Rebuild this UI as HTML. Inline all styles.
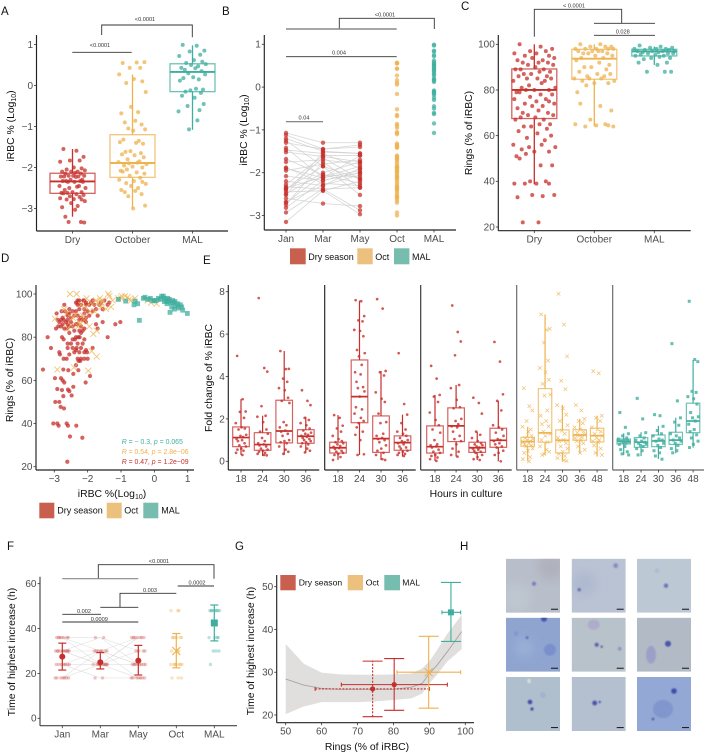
<!DOCTYPE html>
<html lang="en">
<head>
<meta charset="utf-8">
<title>Multi-panel parasite chart figure</title>
<style>
html,body{margin:0;padding:0;background:#fff;}
svg{display:block;font-family:"Liberation Sans",sans-serif;}
svg#fig{filter:blur(0.3px);}
text{font-family:"Liberation Sans",sans-serif;}
</style>
</head>
<body>
<svg id="fig" xmlns="http://www.w3.org/2000/svg" width="705" height="754" viewBox="0 0 705 754">
<defs>
  <filter id="soft" x="-100%" y="-100%" width="300%" height="300%"><feGaussianBlur stdDeviation="0.8"/></filter>
  <filter id="softer" x="-100%" y="-100%" width="300%" height="300%"><feGaussianBlur stdDeviation="5"/></filter>
</defs>

<g font-size="11.5" fill="#111">
  <text x="1" y="15">A</text>
  <text x="222" y="15">B</text>
  <text x="461" y="10">C</text>
  <text x="1" y="262">D</text>
  <text x="203" y="264">E</text>
  <text x="7" y="550">F</text>
  <text x="235" y="550">G</text>
  <text x="460" y="550">H</text>
</g>

<g id="panelA"></g>
<g id="panelB"></g>
<g id="panelC"></g>
<g id="panelD"></g>
<g id="panelE"></g>
<g id="panelF"></g>
<g id="panelG"></g>

<g fill="#111" font-size="10.4" text-anchor="middle">
  <text transform="translate(14,126) rotate(-90)">iRBC % (Log<tspan font-size="7" dy="2">10</tspan><tspan dy="-2">)</tspan></text>
  <text transform="translate(247,130) rotate(-90)">iRBC % (Log<tspan font-size="7" dy="2">10</tspan><tspan dy="-2">)</tspan></text>
  <text transform="translate(472,133) rotate(-90)">Rings (% of iRBC)</text>
  <text transform="translate(13,380) rotate(-90)">Rings (% of iRBC)</text>
  <text x="112" y="497">iRBC %(Log<tspan font-size="7" dy="2">10</tspan><tspan dy="-2">)</tspan></text>
  <text transform="translate(212,378) rotate(-90)">Fold change of % iRBC</text>
  <text x="466" y="497">Hours in culture</text>
  <text transform="translate(15,652) rotate(-90)">Time of highest increase  (h)</text>
  <text transform="translate(254,651) rotate(-90)">Time of highest increase  (h)</text>
  <text x="367" y="750">Rings (% of iRBC)</text>
</g>

<g fill="none" stroke="#333" stroke-width="0.9">
  <path d="M72.3 52.3H131.7"/>
  <path d="M101.7 35V25H192.3V37.3"/>
  <path d="M339.3 29V18.3H434.3V29"/>
  <path d="M286 29H396.7" stroke="#888" stroke-width="1.4"/>
  <path d="M286 56.7H396.7"/>
  <path d="M286 121.7H323" stroke="#777" stroke-width="1.2"/>
  <path d="M534.3 36.7V9.3H621.7V23.3"/>
  <path d="M594 23.3H655"/>
  <path d="M594 35.3H655"/>
  <path d="M98.3 578.7V564.7H214V578.7"/>
  <path d="M62.3 578.7H138.3" stroke="#888" stroke-width="1.2"/>
  <path d="M177.7 586H214"/>
  <path d="M120 607.3V593.3H176.3"/>
  <path d="M100.3 607.3H138.3"/>
  <path d="M62.3 614.3H101"/>
  <path d="M62.3 622H138.3"/>
</g>
<g fill="#333" font-size="5.6" text-anchor="middle">
  <text x="100" y="47">&lt;0.0001</text>
  <text x="145" y="21">&lt;0.0001</text>
  <text x="385" y="16.5">&lt;0.0001</text>
  <text x="339" y="54.5">0.004</text>
  <text x="304" y="119.5">0.04</text>
  <text x="574" y="7.5">&lt; 0.0001</text>
  <text x="622.7" y="33.5">0.028</text>
  <text x="159" y="563">&lt;0.0001</text>
  <text x="197" y="584.7">0.0002</text>
  <text x="150" y="592">0.003</text>
  <text x="84" y="613">0.002</text>
  <text x="99.3" y="620.8">0.0009</text>
</g>

<g font-size="9" fill="#111">
  <rect x="290" y="248.3" width="15.7" height="16" fill="#c9604f"/>
  <text x="308.3" y="260">Dry season</text>
  <rect x="357.3" y="248.3" width="15.4" height="16" fill="#ecc17d"/>
  <text x="375.3" y="260">Oct</text>
  <rect x="394" y="248.3" width="15.4" height="16" fill="#76bcaf"/>
  <text x="412" y="260">MAL</text>
</g>
<g font-size="9" fill="#111">
  <rect x="39.3" y="502.7" width="15" height="15.6" fill="#c9604f"/>
  <text x="57.3" y="513.5">Dry season</text>
  <rect x="106.7" y="502.7" width="15" height="15.6" fill="#ecc17d"/>
  <text x="124.3" y="513.5">Oct</text>
  <rect x="143.3" y="502.7" width="15" height="15.6" fill="#76bcaf"/>
  <text x="161.3" y="513.5">MAL</text>
</g>
<g font-size="8.6" fill="#111">
  <rect x="280.3" y="575" width="15.4" height="15.3" fill="#c9604f"/>
  <text x="298.7" y="585.5">Dry season</text>
  <rect x="347.7" y="575" width="15.3" height="15.3" fill="#ecc17d"/>
  <text x="365.7" y="585.5">Oct</text>
  <rect x="384.3" y="575" width="15.7" height="15.3" fill="#76bcaf"/>
  <text x="402.3" y="585.5">MAL</text>
</g>

<g font-size="6.9">
  <text x="121.7" y="444" fill="#3fae9e"><tspan font-style="italic">R</tspan> = − 0.3, <tspan font-style="italic">p</tspan> = 0.065</text>
  <text x="121.7" y="454" fill="#eeb24f"><tspan font-style="italic">R</tspan> = 0.54, <tspan font-style="italic">p</tspan> = 2.8e−06</text>
  <text x="121.7" y="464" fill="#c62f2b"><tspan font-style="italic">R</tspan> = 0.47, <tspan font-style="italic">p</tspan> = 1.2e−09</text>
</g>

<g>
  <svg x="506" y="558.7" width="54" height="54" viewBox="0 0 54 54"><rect width="54" height="54" fill="#b8bfcb"/><circle cx="45" cy="8" r="14" fill="#b0b2bc" filter="url(#softer)"/><circle cx="10" cy="40" r="14" fill="#bec7d0" filter="url(#softer)"/><circle cx="28" cy="25" r="2" fill="#6a6cb8" fill-opacity="0.8" filter="url(#soft)"/><rect x="45" y="50" width="7" height="1.1" fill="#222"/></svg>
  <svg x="571.7" y="558.7" width="54" height="54" viewBox="0 0 54 54"><rect width="54" height="54" fill="#b9c3d3"/><circle cx="12" cy="25" r="12" fill="#aeb9cf" filter="url(#softer)"/><circle cx="7.5" cy="31" r="1.7" fill="#5a63b2" fill-opacity="0.85" filter="url(#soft)"/><circle cx="44" cy="7" r="2.4" fill="#7b84c0" fill-opacity="0.85" filter="url(#soft)"/><rect x="45" y="50" width="7" height="1.1" fill="#222"/></svg>
  <svg x="637" y="558.7" width="54" height="54" viewBox="0 0 54 54"><rect width="54" height="54" fill="#bcc8d4"/><circle cx="29" cy="27" r="2.2" fill="#6464b5" fill-opacity="0.85" filter="url(#soft)"/><circle cx="20" cy="12" r="2.4" fill="#b0b9d3" filter="url(#soft)"/><rect x="45" y="50" width="7" height="1.1" fill="#222"/></svg>
  <svg x="506" y="617.7" width="54" height="54" viewBox="0 0 54 54"><rect width="54" height="54" fill="#8fa5d0"/><circle cx="44" cy="32" r="6" fill="#7a90cb" filter="url(#soft)"/><circle cx="38" cy="1" r="3" fill="#4654ad" filter="url(#soft)"/><circle cx="21" cy="20" r="1.4" fill="#4452aa" filter="url(#soft)"/><circle cx="10" cy="16" r="2.4" fill="#8296ce" filter="url(#soft)"/><circle cx="18" cy="30" r="9" fill="#9cb0d6" filter="url(#softer)"/><rect x="45" y="50" width="7" height="1.1" fill="#222"/></svg>
  <svg x="571.7" y="617.7" width="54" height="54" viewBox="0 0 54 54"><rect width="54" height="54" fill="#b8c2cb"/><ellipse cx="22" cy="7" rx="6" ry="5" fill="#aeacc8" filter="url(#soft)"/><circle cx="25" cy="27" r="2" fill="#5c5fae" filter="url(#soft)"/><circle cx="30" cy="29" r="1.1" fill="#4249a5" filter="url(#soft)"/><circle cx="48" cy="31" r="1.8" fill="#8b92c6" filter="url(#soft)"/><rect x="45" y="50" width="7" height="1.1" fill="#222"/></svg>
  <svg x="637" y="617.7" width="54" height="54" viewBox="0 0 54 54"><rect width="54" height="54" fill="#b2bbc5"/><ellipse cx="14" cy="37" rx="5" ry="9" fill="#9da0c6" filter="url(#soft)"/><circle cx="31" cy="26" r="3" fill="#4a54aa" filter="url(#soft)"/><rect x="45" y="50" width="7" height="1.1" fill="#222"/></svg>
  <svg x="506" y="677" width="54" height="54" viewBox="0 0 54 54"><rect width="54" height="54" fill="#b0bfce"/><circle cx="24" cy="25" r="2.3" fill="#3f4ba4" filter="url(#soft)"/><circle cx="26" cy="32" r="1.6" fill="#3f4ba4" filter="url(#soft)"/><circle cx="37" cy="18" r="3" fill="#a3b3cc" filter="url(#soft)"/><ellipse cx="23" cy="4" rx="1.6" ry="2.4" fill="#d9ded8" filter="url(#soft)"/><rect x="45" y="50" width="7" height="1.1" fill="#222"/></svg>
  <svg x="571.7" y="677" width="54" height="54" viewBox="0 0 54 54"><rect width="54" height="54" fill="#b4bfd0"/><circle cx="23" cy="26" r="2.4" fill="#4a52a8" filter="url(#soft)"/><circle cx="28" cy="25" r="1.1" fill="#3d45a2" filter="url(#soft)"/><rect x="45" y="50" width="7" height="1.1" fill="#222"/></svg>
  <svg x="637" y="677" width="54" height="54" viewBox="0 0 54 54"><rect width="54" height="54" fill="#93a8d4"/><ellipse cx="26" cy="32" rx="10" ry="9" fill="#8096cc" filter="url(#soft)"/><circle cx="37" cy="14" r="2.8" fill="#414ea8" filter="url(#soft)"/><circle cx="16" cy="42" r="1.3" fill="#4a56ac" filter="url(#soft)"/><rect x="45" y="50" width="7" height="1.1" fill="#222"/></svg>
</g>

<script>
// ---- shared jitter pattern (unitless, multiplied by each chart's spread)
var jitterPattern = [-0.7,0.3,0.85,-0.2,0.55,-0.95,0.1,0.7,-0.45,0.95,-0.1,0.4,-0.8,0.2,-0.55,0.65,-0.3,0.9,0.05,-0.65,0.45,-0.9,0.25,0.75,-0.15,-0.5,0.6,-0.75,0.15,0.8,-0.35,0.5,-1,0.35,-0.25,1,-0.6,0,0.7,-0.4,-0.85];

// ---- panel A
var groupLabels = ['Dry','October','MAL'];
var logTicks = [-3,-2,-1,0,1];
var dryLog = [-1.55,-1.59,-1.74,-1.83,-1.83,-1.86,-2,-2.02,-2.05,-2.07,-2.1,-2.1,-2.1,-2.13,-2.15,-2.15,-2.2,-2.2,-2.2,-2.22,-2.22,-2.22,-2.23,-2.3,-2.3,-2.33,-2.33,-2.33,-2.35,-2.35,-2.35,-2.45,-2.45,-2.47,-2.5,-2.5,-2.55,-2.6,-2.6,-2.62,-2.62,-2.63,-2.65,-2.67,-2.7,-2.72,-2.75,-2.77,-2.78,-2.78,-2.82,-2.87,-2.94,-2.97,-3.03,-3.2,-3.33,-3.33,-3.34];
var octLog = [0.55,0.56,0.57,0.43,0.43,0.27,0.16,0.1,0.06,-0.16,-0.52,-0.65,-0.68,-0.86,-0.9,-0.95,-1.05,-1.07,-1.1,-1.32,-1.35,-1.38,-1.4,-1.42,-1.6,-1.62,-1.65,-1.68,-1.7,-1.75,-1.8,-1.85,-1.87,-1.88,-1.9,-1.92,-1.95,-1.98,-2,-2.05,-2.08,-2.1,-2.12,-2.15,-2.2,-2.25,-2.3,-2.33,-2.35,-2.38,-2.4,-2.45,-2.5,-2.55,-2.57,-2.6,-2.65,-2.7,-2.93,-3];
var malLog = [0.99,0.97,0.85,0.83,0.75,0.72,0.62,0.58,0.55,0.52,0.5,0.47,0.43,0.42,0.38,0.35,0.3,0.27,0.2,0.18,0.15,0.12,-0.08,-0.1,-0.12,-0.15,-0.18,-0.25,-0.3,-0.45,-0.5,-0.6,-0.63,-0.85,-1.07];
var dryLogBox = [-3.2,-2.63,-2.34,-2.14,-1.55];
var octLogBox = [-2.99,-2.24,-1.89,-1.2,0.27];
var malLogBox = [-1.08,-0.15,0.33,0.53,0.98];

// ---- panel B
var monthLabels = ['Jan','Mar','May','Oct','MAL'];
var janLog = [-1.07,-1.12,-1.2,-1.25,-1.42,-1.47,-1.52,-1.68,-1.75,-1.88,-1.95,-2.08,-2.2,-2.28,-2.33,-2.36,-2.38,-2.45,-2.5,-2.52,-2.6,-2.68,-2.7,-2.75,-2.82,-2.93,-3.15,-1.3,-1.9,-2.4];
var marLog = [-1.3,-1.45,-1.5,-1.85,-2.12,-1.55,-1.62,-2.05,-1.7,-2.25,-1.8,-2.18,-2.3,-1.6,-2.38,-2.1,-1.85,-2.42,-2,-1.52,-2.72,-2.3,-2.05,-1.75,-2.18,-2.38,-2.42,-1.45,-2.12,-1.65];
var mayLog = [-1.3,-1.35,-1.55,-2.15,-1.6,-1.9,-1.75,-2.25,-1.8,-2.3,-1.7,-2,-2.05,-1.6,-2.35,-1.85,-2.52,-2.2,-1.75,-1.55,-2.78,-1.9,-2.1,-2.35,-2,-2.88,-2.97,-1.4,-1.95,-2.15];

// ---- panel C
var ringsTicks = [20,40,60,80,100];
var dryRings = [100,99,98,97,97,96,96,95,95,94,94,93,93,92,92,92,91,91,90,89,89,89,88,88,87,87,86,86,85,85,85,84,84,83,82,81,81,80,80,80,79,79,78,78,77,76,76,75,75,74,74,73,73,72,71,70,70,69,69,68,68,67,67,65,65,64,64,63,62,61,60,59,58,56,56,55,55,54,53,53,52,51,50,47,47,40,40,39,39,39,39,34,34,33.5,33,22,22];
var octRings = [100,100,99,99,99,98,98,98,98,98,97,97,97,97,96,96,96,95,95,94,94,93,92,91,90,90,89,88,87,87,86,86,85,85,85,84,84,83,83,82,79,74,73,71,67,65,65,64.5,64.5,64,64];
var malRings = [99.5,99,98.5,98.5,98,98,98,97.5,97.5,97,97,97,97,96.5,96.5,96,96,96,95.5,95.5,95,95,94.5,94,94,93.5,92,92,91,88,88,88];
var dryRingsBox = [38.7,67.5,80,89.2,100];
var octRingsBox = [64,84.7,93.7,97.8,100];
var malRingsBox = [91,94.9,96.9,97.8,99];

// ---- panel D
var dXTicks = [-3,-2,-1,0,1];
var dryScatter = [[-3.34,65],[-3.2,80],[-3.1,75],[-3.03,40],[-2.91,40],[-2.87,39],[-2.63,40],[-2.59,39],[-2.34,39],[-2.53,34],[-2.16,33.4],[-2.61,22.3],[-2.97,50],[-2.85,50],[-2.81,47.7],[-2.71,47],[-2.73,52.7],[-2.91,56],[-2.77,55.5],[-2.59,55.7],[-2.55,55],[-2.48,53],[-2.43,57],[-2.98,61],[-2.8,61],[-2.75,60],[-2.7,59],[-2.73,65],[-2.58,64.7],[-2.35,67],[-2.28,64.7],[-2.43,63],[-1.93,62],[-2.06,59],
[-2.3,97],[-2.25,97],[-2.13,97],[-2.1,97],[-1.85,97],[-1.5,97],[-2.35,96],[-2.3,96],[-2.05,96],[-1.9,96],[-1.6,96],[-1.35,96],[-2.7,95],[-2.3,95],[-2.2,95],[-2.05,95],[-1.95,95],[-1.8,95],[-1.65,95],[-1.4,95],[-2.55,93],[-2.25,93],[-2.1,93],[-1.75,93],[-1.55,93],[-2.78,92],[-2.68,92],[-2.45,92],[-2.35,92],[-2,92],[-1.85,92],[-2.93,91],[-2.6,91],[-2.55,91],[-2.1,91],[-2.6,90],[-2.4,90],[-2.3,90],[-1.95,90],[-1.7,90],[-2.75,89],[-2.5,89],[-2.2,89],[-2.05,89],[-2.9,88],[-2.8,88],[-2.72,88],[-2.6,88],[-2.25,88],[-2.15,88],[-2.1,88],[-2.85,87],[-2.65,87],[-2.5,87],[-2.05,87],[-1.55,87],[-1.02,87],[-2.75,86],[-2.6,86],[-2.35,86],[-2.3,86],[-1.75,86],[-1.17,86],[-2.88,85],[-2.8,85],[-2.55,85],[-2.45,85],[-2.2,85],[-2.95,84],[-2.7,84],[-2.62,84],[-2.1,84],[-1.7,84],[-2.4,83],[-2.25,83],[-2.15,83],[-2.55,82],[-2.2,82],[-2.77,80],[-2.35,80],[-2.28,80],[-2.24,80],[-1.4,80],[-2.72,79],[-2.45,79],[-2.38,79],[-2.1,79],[-2.6,77],[-2.5,77],[-2.3,77],[-2.15,77],[-2.6,75],[-2.45,75],[-2.33,75],[-2.2,75],[-1.85,75],[-2.35,74],[-2.05,74],[-2.85,73],[-2.4,73],[-2.25,73],[-2.1,73],[-2.02,73],[-2.83,72],[-2.55,72],[-2.72,70],[-2.63,70],[-2.3,70],[-2.2,70],[-2.1,70],[-2,70],[-2.27,69],[-2.22,69]];
var octScatter = [[-2.53,100],[-2.33,100],[-2.98,88.5],[-2.91,65],[-1.98,64.5],[-1.88,73.5],[-1.73,71],[-2.41,66],[-2.03,98],[-1.9,96],[-1.63,98],[-1.58,96],[-1.38,100],[-1.35,99],[-1.08,98],[-0.98,99],[-0.88,99],[-0.58,98],[-0.75,97.5],[0.07,95.5],[-2.23,86],[-2.28,85],[-1.73,83],[-1.83,81.5],[-2.15,90],[-1.93,92],[-2.62,91],[-2.37,90.5],[-2.5,85.5],[-2.45,89],[-1.8,92],[-1.6,94],[-1.45,93],[-1.3,94],[-2.05,94],[-2.2,95],[-1.75,97],[-1.7,96],[-1.55,97],[-1.25,97],[-1,98],[-0.8,98.5],[-0.7,97],[-0.2,97],[-0.1,96],[-2.1,88],[-1.95,85],[-2.25,87],[-2.6,84],[-2.7,93]];
var malScatter = [[-1.08,97.5],[-0.86,96.7],[-0.58,96.7],[-0.61,95],[-0.5,95.5],[-0.45,87.8],[-0.33,98],[-0.28,98.5],[-0.2,97.5],[-0.12,98],[-0.05,97],[0,96.8],[0.05,97],[0.12,98],[0.18,97.5],[0.22,99],[0.27,99],[0.3,98],[0.35,97],[0.4,98],[0.42,96.5],[0.45,97.5],[0.5,96],[0.47,91.5],[0.52,94],[0.55,97],[0.58,96],[0.62,96.5],[0.65,94.5],[0.7,95.5],[0.72,93.5],[0.78,95],[0.82,94],[0.85,92.5],[0.99,91],[0.3,96.5],[0.38,95.5],[0.6,93]];

// ---- panel E
var foldTicks = [0,2,4,6,8];
var hoursShort = [18,24,30,36];
var hoursLong = [18,24,30,36,48];
var fold1Values = [
 [4.97,2.93,2.35,2.33,2.05,1.8,1.6,1.55,1.5,1.25,1.2,1.15,1.05,1,0.95,0.85,0.75,0.7,0.6,0.55,0.5,0.4,0.3],
 [7.7,4.4,4.23,2.6,2.15,2.1,1.85,1.5,1.4,1.3,1.1,0.95,0.85,0.8,0.75,0.7,0.6,0.55,0.5,0.45,0.4,0.35,0.3,0.28],
 [5.2,4.35,4.36,3.9,3.75,3.45,3.35,3,2.85,2.75,1.85,1.7,1.6,1.45,1.4,1.3,1.2,1,0.95,0.9,0.85,0.7,0.55,0.45,0.35],
 [3.35,2.85,2.65,2.05,1.95,1.8,1.7,1.55,1.45,1.35,1.3,1.25,1.2,1.15,1.1,1.05,1,0.95,0.9,0.85,0.8,0.7,0.6,0.5,0.42]];
var fold1Box = [[0.3,0.69,1.12,1.62,2.93],[0.25,0.52,0.79,1.35,2.15],[0.3,0.87,1.43,2.88,5.2],[0.41,0.85,1.18,1.49,2.1]];
var fold2Values = [
 [2.18,2.05,1.68,1.55,1.4,1.2,1.05,0.95,0.9,0.85,0.8,0.72,0.68,0.62,0.58,0.5,0.45,0.4,0.35,0.3,0.2,0.06],
 [7.6,7.55,6.85,6.65,6.6,6.2,6.15,5.9,5.25,5.1,4.95,4.55,4.2,4.1,3.75,3.5,3.45,3.3,3.05,2.55,2.45,2.25,2.05,1.9,1.8,1.6,1.4,1.25,1,0.33,0.3],
 [7.65,7.2,4.26,4.2,4.05,3.25,2.95,2.8,2.25,1.85,1.8,1.3,1.2,1.1,1.05,1,0.9,0.75,0.6,0.5,0.4,0.3,0.1,0.06],
 [5.1,2.7,2.2,1.8,1.5,1.4,1.3,1.2,1.1,1,0.95,0.9,0.85,0.8,0.7,0.65,0.6,0.5,0.45,0.4,0.35,0.3,0.25]];
var fold2Box = [[0.06,0.39,0.64,0.9,2.18],[0.3,1.82,3.05,4.78,7.58],[0.06,0.42,1.07,2.14,4.26],[0.22,0.52,0.88,1.2,2.2]];
var fold3Values = [
 [4.5,3.9,3.13,3.05,2.8,2.3,1.95,1.7,1.5,1.35,1,0.8,0.75,0.7,0.65,0.55,0.45,0.4,0.3,0.25,0.18,0.1,0.02],
 [7.35,6.1,5.65,5,3.6,3.45,2.9,2.55,2.5,2,1.9,1.75,1.65,1.6,1.4,1.2,1.05,0.95,0.8,0.6,0.45,0.3,0.22],
 [3,2.75,2.25,1.4,1.25,1.1,0.95,0.85,0.8,0.75,0.7,0.65,0.6,0.55,0.5,0.45,0.4,0.3,0.2,0.1,0.06],
 [5.63,4.7,3.16,2.85,2.4,1.7,1.6,1.5,1.35,1.2,1.05,1,0.95,0.85,0.8,0.7,0.65,0.5,0.4,0.3,0]];
var fold3Box = [[0.02,0.39,0.69,1.67,3.13],[0.22,0.93,1.67,2.52,3.6],[0.06,0.42,0.64,0.9,1.4],[0,0.66,0.99,1.56,2.85]];
var fold4Values = [
 [3.45,2.6,2.4,1.9,1.5,1.63,1.4,1.2,1.1,1.05,1,0.95,0.9,0.85,0.8,0.75,0.7,0.6,0.5,0.4,0.2,0.1,0],
 [6.93,6.2,6.25,5.6,4.75,4.4,4.2,3.85,3.65,3.15,3.1,2.4,2.15,1.9,1.75,1.65,1.4,1.3,1.2,1,0.9,0.7,0.55,0.45,0.35,0.3],
 [7.9,6.45,4.95,3.8,3.4,2.65,2.5,2.2,1.9,1.7,1.45,1.3,1.1,1,0.95,0.85,0.7,0.6,0.45,0.35,0.25,0.15,0.05,0.02],
 [2.65,2.4,2,1.9,1.8,1.6,1.5,1.4,1.35,1.25,1.2,1.15,1.1,1,0.95,0.85,0.7,0.55,0.4],
 [4.25,4.15,2.15,2.05,1.9,1.6,1.5,1.4,1.3,1.2,1.1,1,0.95,0.9,0.75,0.6,0.4,0.3]];
var fold4Box = [[0,0.71,0.93,1.13,1.63],[0.3,0.9,1.34,3.43,6.93],[0,0.39,0.99,1.48,2.66],[0.38,0.99,1.24,1.49,2],[0.22,0.91,1.21,1.56,2.15]];
var fold5Values = [
 [2.3,1.6,1.3,1.2,1.1,1.05,1,0.98,0.95,0.92,0.88,0.85,0.8,0.7,0.55,0.45,0.35,0.3],
 [2.97,2,1.35,1.2,1.1,1,0.95,0.9,0.85,0.8,0.75,0.7,0.6,0.5,0.3],
 [2.2,2.15,1.65,1.45,1.3,1.2,1.05,1,0.95,0.85,0.75,0.65,0.5,0.4,0.25,0.1],
 [5.55,2.85,2.05,1.85,1.7,1.3,1.2,1.1,1,0.95,0.85,0.75,0.6,0.5,0.4],
 [7.55,4.8,4.7,3.3,3.25,3.05,2.95,2.7,2.3,2.1,2.05,1.9,1.75,1.5,1.4,1.25,1.1,0.95,0.8,0.65]];
var fold5Box = [[0.3,0.82,0.94,1.05,1.32],[0.25,0.66,0.9,1.12,1.37],[0.11,0.69,0.96,1.24,1.67],[0.38,0.8,1,1.37,2.06],[0.64,1.35,1.9,2.74,4.78]];

// ---- panel F
var timeTicks = [0,20,40,60];
var timeJan = [18,18,18,18,18,18,18,24,24,24,24,24,24,24,30,30,30,30,30,30,30,30,30,30,36,36,36,36,36,36,36];
var timeMar = [18,18,24,24,24,24,24,24,24,24,24,24,30,30,30,30,30,30,30,36,36];
var timeMay = [18,18,18,18,18,18,18,24,24,24,24,24,24,24,24,30,30,30,30,36,36,36,36,36,36,36];
var timeOct = [18,18,18,24,24,24,24,24,24,24,24,30,30,30,36,36,36,36,36,36,48,48,48];
var timeMal = [24,30,30,30,36,36,36,36,48,48,48,48,48,48,48,48];
var pairedJan = [18,18,24,24,24,30,30,30,30,36,36,36];
var pairedMar = [24,30,18,24,30,24,24,30,36,24,30,36];
var pairedMay = [36,24,18,36,24,18,30,36,24,24,18,30];
var timeMeans = [27.5,25,25.7,30,42.5];
var timeLow = [21.5,22,19.3,22.5,34.5];
var timeHigh = [33.5,29.3,32.5,37.8,50.5];

// ---- panel G
var gXTicks = [50,60,70,80,90,100];
var gYTicks = [20,30,40,50];
var fitX = [50,55,60,65,70,75,80,85,88,90,92,95,99];
var fitMean = [28.4,27,26.2,26,26,26,26,26.5,27.4,29.7,31.5,34.8,39.5];
var fitHigh = [36.6,32,29.9,29.5,29.4,29.4,29.5,29.7,30.9,32.5,35,39,43.4];
var fitLow = [20.2,22,23,23,23,23.2,23.5,23.9,25,27.4,29.3,32.5,35.4];
var summaryDry = {x:80.2,y:27.1,xLo:65.5,xHi:95,yLo:21.1,yHi:33.2};
var summaryDryDashed = {x:74.2,y:26.1,xLo:58.2,xHi:90,yLo:19.6,yHi:32.6};
var summaryOct = {x:89.8,y:30,xLo:81,xHi:98.7,yLo:21.6,yHi:38.4};
var summaryMal = {x:96,y:44,xLo:93.5,xHi:98.7,yLo:37.2,yHi:51};

// ---- colours
var RED = '#c62f2b', ORANGE = '#eeb24f', TEAL = '#3fae9e';
var NS = 'http://www.w3.org/2000/svg';

function make(parent, tag, attrs) {
  var el = document.createElementNS(NS, tag);
  for (var k in attrs) { el.setAttribute(k, attrs[k]); }
  parent.appendChild(el);
  return el;
}
function linear(d0, d1, r0, r1) {
  return function (v) { return r0 + (v - d0) * (r1 - r0) / (d1 - d0); };
}
function fmt(v) { return String(v).replace('-', '\u2212'); }

function drawLine(parent, x1, y1, x2, y2, color, width, opacity, name, dash) {
  var el = make(parent, 'line', {x1: x1, y1: y1, x2: x2, y2: y2, stroke: color, 'stroke-width': width, 'stroke-opacity': opacity});
  if (dash) { el.setAttribute('stroke-dasharray', dash); }
  
  
  return el;
}
function drawText(parent, x, y, str, anchor, name) {
  var el = make(parent, 'text', {x: x, y: y, 'font-size': 10, fill: '#4d4d4d', 'text-anchor': anchor});
  el.textContent = str;
  
  
  return el;
}
function drawDot(parent, x, y, r, color, opacity, name) {
  var el = make(parent, 'circle', {cx: x, cy: y, r: r, fill: color, 'fill-opacity': opacity});
  
  
  return el;
}
function drawSquare(parent, x, y, size, color, opacity, name) {
  var el = make(parent, 'rect', {x: x - size / 2, y: y - size / 2, width: size, height: size, fill: color, 'fill-opacity': opacity});
  
  
  return el;
}
function drawCross(parent, x, y, s, color, width, opacity, name) {
  var d = 'M' + (x - s) + ' ' + (y - s) + 'L' + (x + s) + ' ' + (y + s) + 'M' + (x - s) + ' ' + (y + s) + 'L' + (x + s) + ' ' + (y - s);
  var el = make(parent, 'path', {d: d, stroke: color, 'stroke-width': width, 'stroke-opacity': opacity, fill: 'none'});
  
  
  return el;
}
function drawAxes(parent, c) {
  var color = c.color || '#222';
  drawLine(parent, c.left, c.top, c.left, c.bottom, color, 1.15, 1, 'y-axis-line');
  drawLine(parent, c.left, c.bottom, c.right, c.bottom, color, 1.15, 1, 'x-axis-line');
  (c.yTicks || []).forEach(function (t) {
    var y = c.yScale(t);
    drawLine(parent, c.left - 2.5, y, c.left, y, '#333', 0.8, 1, 'y-tick');
    drawText(parent, c.left - 3.5, y + 3.4, fmt(t), 'end', 'y-tick-label');
  });
  (c.xTicks || []).forEach(function (t, i) {
    var x = c.xPos(t, i);
    drawLine(parent, x, c.bottom, x, c.bottom + 2.5, '#333', 0.8, 1, 'x-tick');
    drawText(parent, x, c.bottom + 12, fmt(t), 'middle', 'x-tick-label');
  });
}
function drawStrip(parent, values, cx, yS, spread, r, color, opacity, name, shape) {
  values.forEach(function (v, i) {
    var x = cx + jitterPattern[i % jitterPattern.length] * spread;
    var y = yS(v);
    if (shape === 'cross') { drawCross(parent, x, y, r, color, 0.7, opacity, name); }
    else if (shape === 'square') { drawSquare(parent, x, y, r * 2, color, opacity, name); }
    else { drawDot(parent, x, y, r, color, opacity, name); }
  });
}
function drawBox(parent, s, cx, half, yS, color, lw, medW, name) {
  drawLine(parent, cx, yS(s[0]), cx, yS(s[1]), color, lw, 1, name + '-lower-whisker');
  drawLine(parent, cx, yS(s[3]), cx, yS(s[4]), color, lw, 1, name + '-upper-whisker');
  var el = make(parent, 'rect', {x: cx - half, y: yS(s[3]), width: half * 2, height: yS(s[1]) - yS(s[3]), fill: 'none', stroke: color, 'stroke-width': lw, 'stroke-opacity': 0.75});
  
  
  drawLine(parent, cx - half, yS(s[2]), cx + half, yS(s[2]), color, medW, 1, name + '-median');
}

// ---------- Panel A
(function () {
  var g = document.getElementById('panelA');
  var y = linear(-3, 1, 208.5, 44.5);
  var x = function (i) { return 72.5 + 60 * i; };
  drawAxes(g, {left: 36.5, right: 228, top: 35, bottom: 231, yScale: y, yTicks: logTicks, xTicks: groupLabels, xPos: function (t, i) { return x(i); }});
  drawStrip(g, dryLog, x(0), y, 13, 2, RED, 0.75, 'dry-point');
  drawStrip(g, octLog, x(1), y, 14, 2, ORANGE, 0.75, 'october-point');
  drawStrip(g, malLog, x(2), y, 14, 2, TEAL, 0.75, 'mal-point');
  drawBox(g, dryLogBox, x(0), 22.5, y, RED, 1.3, 1.9, 'dry-box');
  drawBox(g, octLogBox, x(1), 22.5, y, ORANGE, 1.3, 1.9, 'october-box');
  drawBox(g, malLogBox, x(2), 22.5, y, TEAL, 1.3, 1.9, 'mal-box');
})();

// ---------- Panel B
(function () {
  var g = document.getElementById('panelB');
  var y = linear(-3, 1, 215.5, 44.3);
  var x = function (i) { return 286 + 37 * i; };
  drawAxes(g, {left: 264.3, right: 456, top: 35, bottom: 230, yScale: y, yTicks: logTicks, xTicks: monthLabels, xPos: function (t, i) { return x(i); }});
  janLog.forEach(function (v, i) {
    drawLine(g, x(0), y(v), x(1), y(marLog[i]), '#cfcfcf', 0.8, 0.85, 'paired-line-jan-mar');
    drawLine(g, x(1), y(marLog[i]), x(2), y(mayLog[i]), '#cfcfcf', 0.8, 0.85, 'paired-line-mar-may');
  });
  drawStrip(g, janLog, x(0), y, 0, 2.2, RED, 0.72, 'jan-point');
  drawStrip(g, marLog, x(1), y, 0, 2.2, RED, 0.72, 'mar-point');
  drawStrip(g, mayLog, x(2), y, 0, 2.2, RED, 0.72, 'may-point');
  drawStrip(g, octLog, x(3), y, 0, 2.2, ORANGE, 0.72, 'oct-point');
  drawStrip(g, malLog, x(4), y, 0, 2.2, TEAL, 0.72, 'mal-point');
})();

// ---------- Panel C
(function () {
  var g = document.getElementById('panelC');
  var y = linear(20, 100, 227, 44.3);
  var x = function (i) { return 534.3 + 60 * i; };
  drawAxes(g, {left: 498.3, right: 690.7, top: 35, bottom: 230.7, yScale: y, yTicks: ringsTicks, xTicks: groupLabels, xPos: function (t, i) { return x(i); }});
  drawStrip(g, dryRings, x(0), y, 21, 2, RED, 0.75, 'dry-point');
  drawStrip(g, octRings, x(1), y, 20, 2, ORANGE, 0.75, 'october-point');
  drawStrip(g, malRings, x(2), y, 21, 2, TEAL, 0.75, 'mal-point');
  drawBox(g, dryRingsBox, x(0), 22.5, y, RED, 1.3, 1.9, 'dry-box');
  drawBox(g, octRingsBox, x(1), 22.5, y, ORANGE, 1.3, 1.9, 'october-box');
  drawBox(g, malRingsBox, x(2), 22.5, y, TEAL, 1.3, 1.9, 'mal-box');
})();

// ---------- Panel D
(function () {
  var g = document.getElementById('panelD');
  var y = linear(20, 100, 466.7, 294);
  var x = linear(-3, 1, 54.3, 187.7);
  drawAxes(g, {left: 36, right: 194, top: 285, bottom: 470, yScale: y, yTicks: ringsTicks, xTicks: dXTicks, xPos: function (t) { return x(t); }});
  dryScatter.forEach(function (p) { drawDot(g, x(p[0]), y(p[1]), 2.1, RED, 0.75, 'dry-scatter-point'); });
  octScatter.forEach(function (p) { drawCross(g, x(p[0]), y(p[1]), 3, ORANGE, 0.9, 0.75, 'oct-scatter-point'); });
  malScatter.forEach(function (p) { drawSquare(g, x(p[0]), y(p[1]), 4.8, TEAL, 0.75, 'mal-scatter-point'); });
})();

// ---------- Panel E
(function () {
  var g = document.getElementById('panelE');
  var y = linear(0, 8, 461.3, 291.7);
  var panels = [
    {left: 228.3, right: 319.3, first: 241, step: 21.6, hours: hoursShort, vals: fold1Values, box: fold1Box, color: RED, shape: 'dot', axis: '#222', ticks: foldTicks},
    {left: 324.7, right: 415.7, first: 338, step: 21.5, hours: hoursShort, vals: fold2Values, box: fold2Box, color: RED, shape: 'dot', axis: '#222'},
    {left: 420.7, right: 511.7, first: 435, step: 21.1, hours: hoursShort, vals: fold3Values, box: fold3Box, color: RED, shape: 'dot', axis: '#333'},
    {left: 516.7, right: 607.7, first: 527.7, step: 17.35, hours: hoursLong, vals: fold4Values, box: fold4Box, color: ORANGE, shape: 'cross', axis: '#666'},
    {left: 612.7, right: 704, first: 623.7, step: 17.35, hours: hoursLong, vals: fold5Values, box: fold5Box, color: TEAL, shape: 'square', axis: '#666'}
  ];
  panels.forEach(function (p) {
    var pos = function (t, i) { return p.first + p.step * i; };
    drawAxes(g, {left: p.left, right: p.right, top: 285, bottom: 470, yScale: y, yTicks: p.ticks, xTicks: p.hours, xPos: pos, color: p.axis});
    var half = p.hours.length === 4 ? 8.3 : 6.7;
    p.vals.forEach(function (vals, i) {
      var r = p.shape === 'dot' ? 1.35 : (p.shape === 'cross' ? 1.8 : 1.5);
      drawStrip(g, vals, pos(0, i), y, 5.5, r, p.color, 0.8, 'fold-change-point', p.shape);
      drawBox(g, p.box[i], pos(0, i), half, y, p.color, 1.2, 1.7, 'fold-change-box');
    });
  });
})();

// ---------- Panel F
(function () {
  var g = document.getElementById('panelF');
  var y = linear(0, 60, 718.3, 583.7);
  var x = function (i) { return 62.3 + 38 * i; };
  drawAxes(g, {left: 40, right: 237, top: 576.7, bottom: 725.7, yScale: y, yTicks: timeTicks, xTicks: monthLabels, xPos: function (t, i) { return x(i); }, color: '#444'});
  pairedJan.forEach(function (v, i) {
    drawLine(g, x(0), y(v), x(1), y(pairedMar[i]), '#d6d6d6', 0.6, 0.7, 'paired-line-jan-mar');
    drawLine(g, x(1), y(pairedMar[i]), x(2), y(pairedMay[i]), '#d6d6d6', 0.6, 0.7, 'paired-line-mar-may');
  });
  drawStrip(g, timeJan, x(0), y, 7.5, 1.7, RED, 0.28, 'jan-time-point');
  drawStrip(g, timeMar, x(1), y, 7.5, 1.7, RED, 0.28, 'mar-time-point');
  drawStrip(g, timeMay, x(2), y, 7.5, 1.7, RED, 0.28, 'may-time-point');
  drawStrip(g, timeOct, x(3), y, 6, 1.7, ORANGE, 0.35, 'oct-time-point');
  drawStrip(g, timeMal, x(4), y, 5.5, 1.7, TEAL, 0.35, 'mal-time-point');
  var colors = [RED, RED, RED, ORANGE, TEAL];
  timeMeans.forEach(function (m, i) {
    var c = colors[i], cx = x(i);
    drawLine(g, cx, y(timeLow[i]), cx, y(timeHigh[i]), c, 1.2, 1, 'error-bar');
    drawLine(g, cx - 4, y(timeLow[i]), cx + 4, y(timeLow[i]), c, 1.2, 1, 'error-bar-cap-low');
    drawLine(g, cx - 4, y(timeHigh[i]), cx + 4, y(timeHigh[i]), c, 1.2, 1, 'error-bar-cap-high');
    if (i < 3) { drawDot(g, cx, y(m), 3, c, 1, 'mean-marker'); }
    else if (i === 3) { drawCross(g, cx, y(m), 4, c, 1.2, 1, 'mean-marker'); }
    else { drawSquare(g, cx, y(m), 7, c, 1, 'mean-marker'); }
  });
})();

// ---------- Panel G
(function () {
  var g = document.getElementById('panelG');
  var y = linear(20, 50, 715, 586.7);
  var x = linear(50, 100, 285.7, 465.3);
  drawAxes(g, {left: 276.7, right: 474, top: 575, bottom: 722.7, yScale: y, yTicks: gYTicks, xTicks: gXTicks, xPos: function (t) { return x(t); }});
  var top = fitX.map(function (v, i) { return x(v) + ' ' + y(fitHigh[i]); });
  var bot = fitX.map(function (v, i) { return x(v) + ' ' + y(fitLow[i]); }).reverse();
  var ribbon = make(g, 'path', {d: 'M' + top.concat(bot).join('L') + 'Z', fill: '#b5b2ae', 'fill-opacity': 0.42});
  
  
  var fit = make(g, 'path', {d: 'M' + fitX.map(function (v, i) { return x(v) + ' ' + y(fitMean[i]); }).join('L'), fill: 'none', stroke: '#a5a5a5', 'stroke-width': 0.9});
  
  

  function summary(s, color, dash, marker, name) {
    var cx = x(s.x), cy = y(s.y);
    drawLine(g, cx, y(s.yLo), cx, y(s.yHi), color, 1.1, 1, name + '-y-error', dash);
    drawLine(g, x(s.xLo), cy, x(s.xHi), cy, color, 1.1, 1, name + '-x-error', dash);
    drawLine(g, cx - 10, y(s.yLo), cx + 10, y(s.yLo), color, 1.1, 1, name + '-y-cap-low');
    drawLine(g, cx - 10, y(s.yHi), cx + 10, y(s.yHi), color, 1.1, 1, name + '-y-cap-high');
    drawLine(g, x(s.xLo), cy - 2, x(s.xLo), cy + 2, color, 1.1, 1, name + '-x-cap-low');
    drawLine(g, x(s.xHi), cy - 2, x(s.xHi), cy + 2, color, 1.1, 1, name + '-x-cap-high');
    if (marker === 'dot') { drawDot(g, cx, cy, 2.6, color, 1, name + '-marker'); }
    else if (marker === 'cross') { drawCross(g, cx, cy, 4, color, 1, 1, name + '-marker'); }
    else { drawSquare(g, cx, cy, 6, color, 1, name + '-marker'); }
  }
  summary(summaryDryDashed, RED, '2 1.4', 'dot', 'dry-dashed-summary');
  summary(summaryDry, RED, null, 'dot', 'dry-summary');
  summary(summaryOct, ORANGE, null, 'cross', 'oct-summary');
  summary(summaryMal, TEAL, null, 'square', 'mal-summary');
})();
</script>
</svg>
</body>
</html>
